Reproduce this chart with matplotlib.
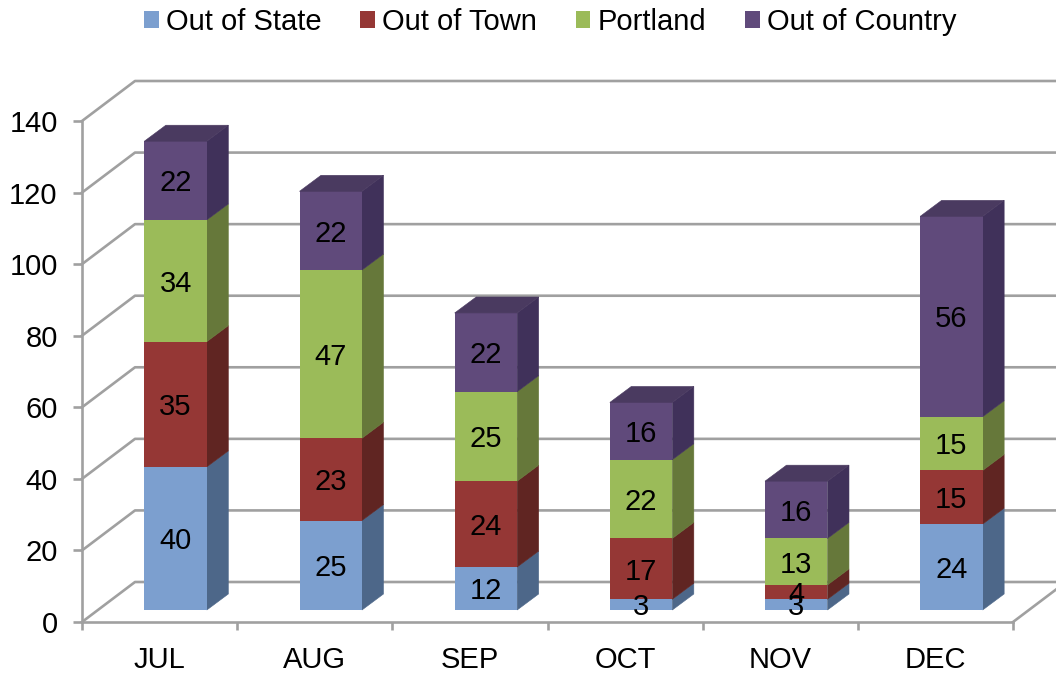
import matplotlib
matplotlib.use('Agg')
from matplotlib import pyplot as plt
from matplotlib.patches import Polygon, Patch

plt.rcParams['font.family'] = ['Liberation Sans', 'DejaVu Sans']

months = ['JUL', 'AUG', 'SEP', 'OCT', 'NOV', 'DEC']
out_of_state = [40, 25, 12, 3, 3, 24]
out_of_town = [35, 23, 24, 17, 4, 15]
portland = [34, 47, 25, 22, 13, 15]
out_of_country = [22, 22, 22, 16, 16, 56]
series_names = ['Out of State', 'Out of Town', 'Portland', 'Out of Country']
y_ticks = [0, 20, 40, 60, 80, 100, 120, 140]

front_colors = ['#7c9fcf', '#953735', '#9bbb59', '#604a7b']
side_colors = ['#4d6789', '#602522', '#66783a', '#40315a']
top_color = '#4a3a60'
grid_color = '#a0a0a0'

# 3d look: pixel offsets turned into axis units
PX_X = 155.2
PX_Y = 501 / 140
wall_dx, wall_dy = 53 / PX_X, 40 / PX_Y
bar_dx, bar_dy = 21.5 / PX_X, 16 / PX_Y
bar_lift = 12 / PX_Y
bar_shift = 16 / PX_X
bar_width = 62.5 / PX_X


def draw_bar(ax, x, bottom, height, front, side, top=None):
    y0 = bottom + bar_lift
    y1 = y0 + height
    left = x - bar_width / 2
    right = x + bar_width / 2
    ax.add_patch(Polygon([(right, y0), (right + bar_dx, y0 + bar_dy),
                          (right + bar_dx, y1 + bar_dy), (right, y1)],
                         facecolor=side, edgecolor=side, lw=0.4, clip_on=False, zorder=3))
    ax.add_patch(Polygon([(left, y0), (right, y0), (right, y1), (left, y1)],
                         facecolor=front, edgecolor='none', clip_on=False, zorder=4))
    if top:
        ax.add_patch(Polygon([(left, y1), (right, y1), (right + bar_dx, y1 + bar_dy),
                              (left + bar_dx, y1 + bar_dy)],
                             facecolor=top, edgecolor=top, lw=0.4, clip_on=False, zorder=4))


def main():
    fig = plt.figure(figsize=(10.56, 6.75), dpi=100)
    ax = fig.add_axes([82 / 1056, (675 - 622) / 675, (1013 - 82) / 1056, 501 / 675])
    ax.set_xlim(0, 6)
    ax.set_ylim(0, 140)

    for v in y_ticks:
        ax.plot([0, wall_dx, 6 + wall_dx], [v, v + wall_dy, v + wall_dy],
                color=grid_color, lw=1.9, clip_on=False, zorder=1)
    ax.plot([6, 6 + wall_dx], [0, wall_dy], color=grid_color, lw=1.9, clip_on=False, zorder=1)

    stacks = [out_of_state, out_of_town, portland, out_of_country]
    for i in range(len(months)):
        x = i + 0.5 + bar_shift
        bottom = 0
        for s, values in enumerate(stacks):
            top = top_color if s == len(stacks) - 1 else None
            draw_bar(ax, x, bottom, values[i], front_colors[s], side_colors[s], top)
            ax.text(x, bottom + bar_lift + values[i] / 2 - 0.8, str(values[i]), ha='center',
                    va='center', fontsize=21, color='black', zorder=5)
            bottom += values[i]

    for side in ['top', 'right']:
        ax.spines[side].set_visible(False)
    for side in ['left', 'bottom']:
        ax.spines[side].set_color(grid_color)
        ax.spines[side].set_linewidth(1.9)

    ax.set_yticks(y_ticks)
    ax.tick_params(axis='y', length=6.5, width=1.9, color=grid_color, pad=11, labelsize=21)
    ax.set_xticks(range(7))
    ax.set_xticklabels([])
    ax.tick_params(axis='x', which='major', length=6, width=1.9, color=grid_color)
    ax.set_xticks([i + 0.5 for i in range(6)], months, minor=True)
    ax.tick_params(axis='x', which='minor', length=0, pad=17, labelsize=21)

    handles = [Patch(facecolor=c, edgecolor='none') for c in front_colors]
    fig.legend(handles, series_names, loc='center', bbox_to_anchor=(550 / 1056, 1 - 22 / 675),
               ncol=4, frameon=False, fontsize=21, handlelength=0.51, handleheight=0.51,
               handletextpad=0.24, columnspacing=1.33, borderpad=0, borderaxespad=0)

    fig.savefig('out.png', dpi=100)


if __name__ == "__main__":
    main()
